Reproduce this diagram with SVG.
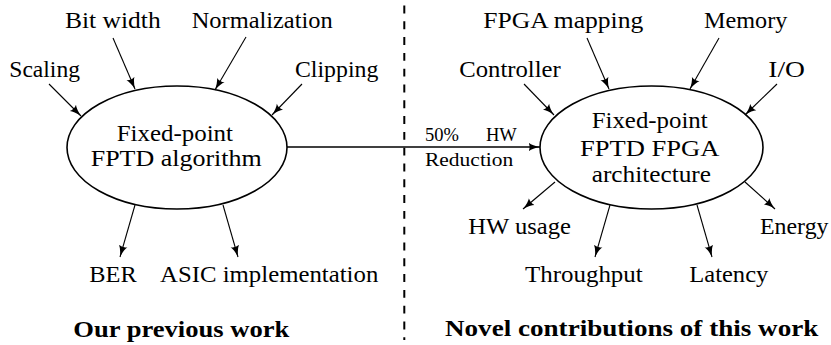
<svg xmlns="http://www.w3.org/2000/svg" width="831" height="345" viewBox="0 0 831 345">
<style>
text{font-family:'Liberation Serif','Times New Roman',serif;font-size:23.5px;fill:#000}
.b{font-weight:bold;font-size:24px}
.s{font-size:18.5px}
.node{fill:#fff;stroke:#000;stroke-width:1.6}
.c line{stroke:#000;stroke-width:1.1;marker-end:url(#ah)}
</style>
<defs>
<marker id="ah" markerUnits="userSpaceOnUse" markerWidth="12" markerHeight="10" viewBox="0 -4 11 8" refX="10.5" refY="0" orient="auto">
<path d="M0,-4 Q3,-1.5 10.5,0 Q3,1.5 0,4 Q2,0 0,-4 Z" fill="#000"/>
</marker>
</defs>
<rect width="831" height="345" fill="#fff"/>
<line x1="404.3" y1="5.5" x2="404.3" y2="340" stroke="#000" stroke-width="2" stroke-dasharray="7.9 7.9"/>
<g id="n-left">
<ellipse class="node" cx="177" cy="147.5" rx="110" ry="61.5"/>
<text x="116.7" y="141" textLength="116.3" lengthAdjust="spacingAndGlyphs">Fixed-point</text>
<text x="90.7" y="165.5" textLength="171" lengthAdjust="spacingAndGlyphs">FPTD algorithm</text>
</g>
<g id="n-right">
<ellipse class="node" cx="651.5" cy="147.5" rx="111.5" ry="61.5"/>
<text x="591.7" y="128" textLength="116" lengthAdjust="spacingAndGlyphs">Fixed-point</text>
<text x="580" y="156" textLength="139.3" lengthAdjust="spacingAndGlyphs">FPTD FPGA</text>
<text x="591.7" y="182" textLength="119.3" lengthAdjust="spacingAndGlyphs">architecture</text>
</g>
<g id="l-scaling"><text x="9.3" y="77" textLength="70.7" lengthAdjust="spacingAndGlyphs">Scaling</text></g>
<g id="l-bitwidth"><text x="65" y="28.3" textLength="95.7" lengthAdjust="spacingAndGlyphs">Bit width</text></g>
<g id="l-normalization"><text x="191.7" y="28.3" textLength="141" lengthAdjust="spacingAndGlyphs">Normalization</text></g>
<g id="l-clipping"><text x="295" y="77" textLength="83.3" lengthAdjust="spacingAndGlyphs">Clipping</text></g>
<g id="l-ber"><text x="89.3" y="281.7" textLength="47.4" lengthAdjust="spacingAndGlyphs">BER</text></g>
<g id="l-asic"><text x="160" y="281.7" textLength="218.3" lengthAdjust="spacingAndGlyphs">ASIC implementation</text></g>
<g id="r-fpgamap"><text x="483.3" y="28.3" textLength="160" lengthAdjust="spacingAndGlyphs">FPGA mapping</text></g>
<g id="r-memory"><text x="704" y="28.3" textLength="83.3" lengthAdjust="spacingAndGlyphs">Memory</text></g>
<g id="r-controller"><text x="459.3" y="77" textLength="101.4" lengthAdjust="spacingAndGlyphs">Controller</text></g>
<g id="r-io"><text x="768.3" y="77" textLength="36.7" lengthAdjust="spacingAndGlyphs">I/O</text></g>
<g id="r-hwusage"><text x="468.3" y="234" textLength="102.7" lengthAdjust="spacingAndGlyphs">HW usage</text></g>
<g id="r-energy"><text x="760" y="234" textLength="68.5" lengthAdjust="spacingAndGlyphs">Energy</text></g>
<g id="r-throughput"><text x="525" y="281.7" textLength="117.7" lengthAdjust="spacingAndGlyphs">Throughput</text></g>
<g id="r-latency"><text x="689.3" y="281.7" textLength="79" lengthAdjust="spacingAndGlyphs">Latency</text></g>
<g id="cap-left"><text class="b" x="73.3" y="336.5" textLength="216" lengthAdjust="spacingAndGlyphs">Our previous work</text></g>
<g id="cap-right"><text class="b" x="445" y="336" textLength="373.3" lengthAdjust="spacingAndGlyphs">Novel contributions of this work</text></g>
<g id="connectors" class="c">
<line x1="49" y1="84" x2="81" y2="116"/>
<line x1="113" y1="38" x2="135" y2="89"/>
<line x1="246" y1="37" x2="215" y2="90"/>
<line x1="302" y1="84" x2="272" y2="115"/>
<line x1="135" y1="205" x2="120" y2="257"/>
<line x1="223" y1="205" x2="238" y2="257"/>
<line x1="524" y1="84" x2="554" y2="115"/>
<line x1="587" y1="38" x2="609" y2="89"/>
<line x1="719" y1="38" x2="690" y2="89"/>
<line x1="777" y1="84" x2="745" y2="115"/>
<line x1="555" y1="182" x2="523" y2="209"/>
<line x1="610" y1="205" x2="595" y2="257"/>
<line x1="697" y1="205" x2="712" y2="257"/>
<line x1="745" y1="182" x2="775" y2="209"/>
<line x1="287" y1="147" x2="540" y2="147" style="stroke-width:1.5"/>
<text class="s" y="141"><tspan x="425">50%</tspan><tspan x="486">HW</tspan></text>
<text class="s" x="425" y="165.5" textLength="88.3" lengthAdjust="spacingAndGlyphs">Reduction</text>
</g>
</svg>
